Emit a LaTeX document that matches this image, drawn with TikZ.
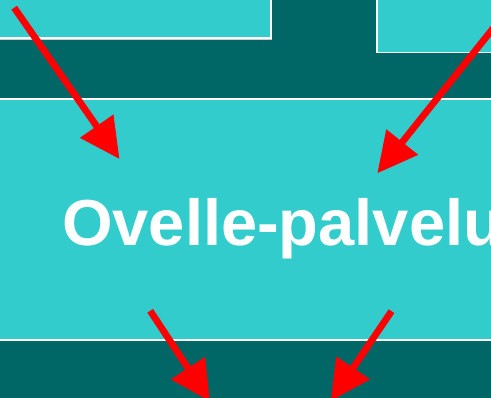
\documentclass[tikz,border=0pt]{standalone}
\usepackage{fontspec}
\setmainfont{Liberation Sans}
\usetikzlibrary{arrows.meta}
\definecolor{darkteal}{HTML}{006666}
\definecolor{lightcyan}{HTML}{33CCCC}
\definecolor{arrowred}{HTML}{FF0000}
\tikzset{
  panel/.style={fill=lightcyan, draw=none},
  edge/.style={draw=white, line width=1.6pt},
  redarrow/.style={draw=arrowred, line width=6.8pt,
    -{Triangle[length=40pt 0 0, width=39pt 0 0, fill=arrowred]}},
  title/.style={text=white, font=\bfseries\fontsize{65}{70}\selectfont, inner sep=0pt, anchor=base west}
}
\begin{document}
\begin{tikzpicture}[x=1pt, y=-1pt]
\useasboundingbox (0,0) rectangle (491,398);
\clip (0,0) rectangle (491,398);
\fill[darkteal] (0,0) rectangle (491,398);
% top-left box
\fill[lightcyan] (-5,-5) rectangle (271,38);
\draw[gray!40, line width=0.8pt] (-5,39.4) -- (271.8,39.4);
\draw[edge] (-5,38) -- (271,38) -- (271,-5);
% top-right box
\fill[lightcyan] (377,-5) rectangle (500,52.5);
\draw[edge] (377,-5) -- (377,52.5) -- (500,52.5);
% middle band
\fill[lightcyan] (-5,98.8) rectangle (500,340.2);
\draw[edge] (-5,98.8) -- (500,98.8);
\draw[edge] (-5,340.2) -- (500,340.2);
% title
\node[title] (t) at (62,246) {Ovelle-palvelu};
% arrows
\coordinate (a1s) at (14.2,7.7);
\coordinate (a1e) at (119.5,159);
\coordinate (a2s) at (515,1);
\coordinate (a2e) at (377.3,173.3);
\coordinate (a3s) at (150.2,310.8);
\coordinate (a3e) at (210,401.5);
\coordinate (a4s) at (391.5,311.2);
\coordinate (a4e) at (330.7,401);
\draw[redarrow] (a1s) -- (a1e);
\draw[redarrow] (a2s) -- (a2e);
\draw[redarrow] (a3s) -- (a3e);
\draw[redarrow] (a4s) -- (a4e);
\end{tikzpicture}
\end{document}
